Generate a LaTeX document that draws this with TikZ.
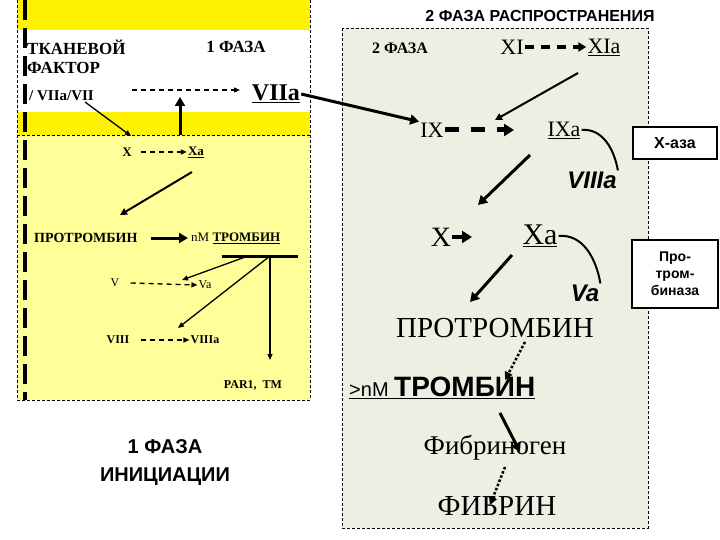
\documentclass[tikz,border=0pt]{standalone}
\usepackage{fontspec}
\setmainfont{Liberation Serif}
\setsansfont{Liberation Sans}
\usetikzlibrary{arrows.meta}
\definecolor{panelg}{RGB}{238,238,226}
\definecolor{ltyel}{RGB}{255,255,153}
\begin{document}
\begin{tikzpicture}[x=1pt,y=-1pt,
  t/.style={inner sep=1pt,font=\rmfamily},
  bx/.style={draw,line width=2pt,fill=white,align=center,font=\sffamily\bfseries},
  thk/.style={line width=3pt,-{Triangle[length=9pt,width=10pt]}},
  med/.style={line width=2pt,-{Triangle[length=7pt,width=7pt]}},
  thn/.style={line width=1.3pt,-{Triangle[length=6pt,width=5pt]}},
  dsh/.style={line width=1.3pt,dash pattern=on 5pt off 4pt,-{Triangle[length=6pt,width=5pt]}},
  dot/.style={line width=2.5pt,dotted,-{Triangle[length=8pt,width=8pt]}}]
\useasboundingbox (0,0) rectangle (720,540);
\fill[white] (0,0) rectangle (720,540);
% left panel
\fill[yellow] (17,0) rectangle (310,30);
\fill[yellow] (17,112) rectangle (310,135);
\fill[ltyel] (17,135) rectangle (310,400);
\draw[densely dashed,thin] (17,0) -- (17,400) -- (310,400) -- (310,0);
\draw[densely dashed,thin] (17,135) -- (310,135);
\draw[line width=4pt,dash pattern=on 20pt off 8pt] (25,0) -- (25,400);
% right panel
\fill[panelg] (342,28) rectangle (648,528);
\draw[densely dashed,thin] (342,28) rectangle (648,528);
% side boxes
\node[bx,minimum width=84pt,minimum height=32pt,font=\sffamily\bfseries\fontsize{16}{18}\selectfont] (xaza) at (675,143) {Х-аза};
\node[bx,minimum width=86pt,minimum height=68pt,font=\sffamily\bfseries\fontsize{14}{17}\selectfont] (prot) at (675,274) {Про-\\тром-\\биназа};
% titles
\node[t,font=\sffamily\bfseries\fontsize{16}{18}\selectfont] (ttl2) at (540,16) {2 ФАЗА РАСПРОСТРАНЕНИЯ};
\node[t,font=\sffamily\bfseries\fontsize{20}{28}\selectfont,align=center] (ttl1) at (165,463) {1 ФАЗА\\ИНИЦИАЦИИ};
% left texts
\node[t,anchor=west,font=\bfseries\fontsize{17}{19}\selectfont] (tf1) at (26,47) {ТКАНЕВОЙ};
\node[t,anchor=west,font=\bfseries\fontsize{17}{19}\selectfont] (tf2) at (26,68) {ФАКТОР};
\node[t,anchor=west,font=\bfseries\fontsize{15}{17}\selectfont] (tf3) at (28,96) {/ VIIa/VII};
\node[t,font=\bfseries\fontsize{17}{19}\selectfont] (f1) at (236,47) {1 ФАЗА};
\node[t,font=\bfseries\fontsize{24}{26}\selectfont] (VIIa) at (276,94) {\underline{VIIa}};
\coordinate (dstart) at (132,90);
\coordinate (upS) at (180,135);
\coordinate (upE) at (180,97);
\node[t,font=\bfseries\fontsize{13}{15}\selectfont] (X1) at (127,152) {X};
\node[t,font=\bfseries\fontsize{13}{15}\selectfont] (Xa1) at (196,152) {\underline{Xa}};
\coordinate (tfS) at (85,102);
\coordinate (tfE) at (131,136);
\coordinate (xaS) at (192,172);
\coordinate (xaE) at (120,215);
\node[t,font=\bfseries\fontsize{14}{16}\selectfont,anchor=west] (PT1) at (33,238) {ПРОТРОМБИН};
\node[t,font=\fontsize{13}{15}\selectfont,anchor=west] (TR1) at (190,238) {nM \textbf{\underline{ТРОМБИН}}};
\coordinate (barL) at (222,256);
\coordinate (barR) at (298,256);
\coordinate (barM) at (248,256);
\coordinate (barV) at (270,256);
\coordinate (barE) at (270,360);
\coordinate (vaE) at (182,280);
\coordinate (v8E) at (178,328);
\node[t,font=\fontsize{12}{14}\selectfont] (V) at (115,283) {V};
\node[t,font=\fontsize{12}{14}\selectfont] (Va1) at (205,285) {Va};
\node[t,font=\bfseries\fontsize{12}{14}\selectfont] (VIII) at (118,340) {VIII};
\node[t,font=\bfseries\fontsize{12}{14}\selectfont] (VIIIa1) at (205,340) {VIIIa};
\node[t,font=\bfseries\fontsize{12}{14}\selectfont] (par) at (253,385) {PAR1,~~TM};
% left connectors
\draw[dsh] (dstart) -- (240,90);
\draw[thk] (upS) -- (upE);
\draw[thn] (tfS) -- (tfE);
\draw[dsh] (X1.east)++(8,0) coordinate (xd) (xd) -- (Xa1.west);
\draw[med] (xaS) -- (xaE);
\draw[thk] (PT1.east)++(12,0) coordinate (pd) (pd) -- (188,238);
\draw[line width=3pt] (barL) -- (barR);
\draw[thn] (barM) -- (vaE);
\draw[thn] (barV) -- (v8E);
\draw[thn] (barV) -- (barE);
\draw[dsh] (V.east)++(10,0) coordinate (vd) (vd) -- (Va1.west);
\draw[dsh] (VIII.east)++(10,0) coordinate (v8) (v8) -- (VIIIa1.west);
% right texts
\node[t,font=\bfseries\fontsize{16}{18}\selectfont] (f2) at (400,48) {2 ФАЗА};
\node[t,font=\fontsize{22}{24}\selectfont] (XI) at (512,47) {XI};
\node[t,font=\fontsize{22}{24}\selectfont] (XIa) at (604,47) {\underline{XIa}};
\node[t,font=\fontsize{22}{24}\selectfont] (IX) at (432,130) {IX};
\node[t,font=\fontsize{22}{24}\selectfont] (IXa) at (564,130) {\underline{IXa}};
\node[t,font=\sffamily\bfseries\itshape\fontsize{24}{26}\selectfont] (VIIIa2) at (592,180) {VIIIa};
\node[t,font=\fontsize{28}{30}\selectfont] (X2) at (441,237) {X};
\node[t,font=\fontsize{30}{32}\selectfont] (Xa2) at (540,236) {\underline{Xa}};
\node[t,font=\sffamily\bfseries\itshape\fontsize{24}{26}\selectfont] (Va2) at (585,293) {Va};
\node[t,font=\fontsize{29}{31}\selectfont] (PT2) at (495,328) {ПРОТРОМБИН};
\node[t,anchor=west] (TR2) at (348,388) {\underline{\sffamily\fontsize{20}{22}\selectfont >nM \bfseries\fontsize{28}{30}\selectfont ТРОМБИН}};
\node[t,font=\fontsize{27}{29}\selectfont] (FG) at (495,448) {Фибриноген};
\node[t,font=\fontsize{29}{31}\selectfont] (FB) at (497,506) {ФИБРИН};
% right connectors
\draw[dsh,line width=4pt,dash pattern=on 9pt off 7pt,-{Triangle[length=8pt,width=9pt]}] (XI.east) -- (XIa.west);
\draw[thk] (VIIa.east) -- (IX.north west);
\coordinate (xiS) at (578,73);
\draw[med] (xiS) -- (495,120);
\draw[line width=5pt,dash pattern=on 14pt off 12pt,-{Triangle[length=10pt,width=12pt]}] (IX.east) -- (514,130);
\draw[line width=2pt] (IXa.east) to[out=5,in=100] (VIIIa2.north east);
\coordinate (ixS) at (530,155);
\draw[thk] (ixS) -- (478,205);
\draw[line width=4pt,-{Triangle[length=10pt,width=12pt]}] (X2.east) -- (472,237);
\draw[line width=2pt] (Xa2.east) to[out=5,in=100] (Va2.north east);
\coordinate (xaS2) at (512,255);
\draw[thk] (xaS2) -- (470,302);
\draw[dot] (525,342) -- (505,380);
\draw[thk] (500,413) -- (520,452);
\draw[dot] (505,467) -- (490,505);
\end{tikzpicture}
\end{document}
